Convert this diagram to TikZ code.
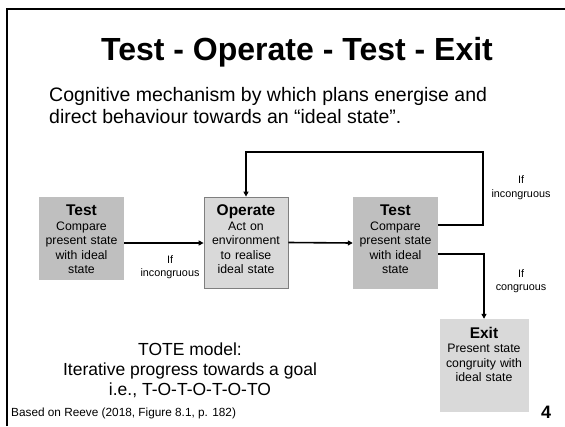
\documentclass[tikz,border=0pt]{standalone}
\usepackage{fontspec}
\setmainfont{Liberation Sans}
\usetikzlibrary{arrows.meta}

\definecolor{darkbox}{HTML}{BFBFBF}
\definecolor{lightbox}{HTML}{D9D9D9}
\definecolor{edgegray}{HTML}{7F7F7F}

\begin{document}
\begin{tikzpicture}[x=1pt, y=-1pt,
    >={Triangle[length=5pt,width=5pt]},
    tbox/.style={rectangle, inner sep=0pt},
    boxtext/.style={anchor=north, align=center, inner sep=0pt, text width=86pt,
        font=\fontsize{12.3}{14.5}\selectfont},
    cond/.style={align=center, font=\fontsize{10.8}{13.5}\selectfont},
    link/.style={line width=1.6pt}]
    \useasboundingbox (0,0) rectangle (565,426);

    % Frame
    \draw[line width=2pt] (6.5,426) -- (6.5,8.5) -- (565,8.5);

    % Title and intro
    \node (title) [anchor=base, font=\bfseries\fontsize{32}{36}\selectfont] at (297,60) {Test - Operate - Test - Exit};
    \node (intro) [anchor=north west, align=left, inner sep=0pt, font=\fontsize{19.5}{22.5}\selectfont] at (49,87)
        {Cognitive mechanism by which plans energise and\\direct behaviour towards an “ideal state”.};

    % Boxes
    \node (test1) [tbox, fill=darkbox, minimum width=85pt, minimum height=83pt] at (81.5,238.5) {};
    \node (operate) [tbox, fill=lightbox, draw=edgegray, line width=0.8pt, minimum width=84pt, minimum height=91pt] at (246,242.5) {};
    \node (test2) [tbox, fill=darkbox, minimum width=85pt, minimum height=92pt] at (395.5,243) {};
    \node (exit) [tbox, fill=lightbox, minimum width=89pt, minimum height=93pt] at (484,365.5) {};

    % Box texts
    \node (test1txt) [boxtext] at ([yshift=-8pt]test1.north) {{\bfseries\fontsize{15.5}{17}\selectfont Test}\\Compare\\present state\\with ideal\\state};
    \node (operatetxt) [boxtext] at ([yshift=-8pt]operate.north) {{\bfseries\fontsize{15.5}{17}\selectfont Operate}\\Act on\\environment\\to realise\\ideal state};
    \node (test2txt) [boxtext] at ([yshift=-8pt]test2.north) {{\bfseries\fontsize{15.5}{17}\selectfont Test}\\Compare\\present state\\with ideal\\state};
    \node (exittxt) [boxtext] at ([yshift=-8pt]exit.north) {{\bfseries\fontsize{15.5}{17}\selectfont Exit}\\Present state\\congruity with\\ideal state};

    % Edges
    \coordinate (fbtop) at (483,152);
    \draw[link, ->] ([yshift=-4.5pt]test1.east) -- ([yshift=-0.5pt]operate.west);
    \draw[link, ->] (operate.east) -- (test2.west);
    \draw[link, ->] ([yshift=18pt]test2.east) -| (fbtop) -| (operate.north);
    \draw[link, ->] ([yshift=-11pt]test2.east) -| (exit.north);

    % Edge labels
    \node (lbl1) [cond] at (170,267) {If\\incongruous};
    \node (lbl2) [cond] at (521,187.5) {If\\incongruous};
    \node (lbl3) [cond] at (521,281) {If\\congruous};

    % Notes
    \node (tote) [align=center, font=\fontsize{17.5}{20}\selectfont] at (190,370) {TOTE model:\\Iterative progress towards a goal\\i.e., T-O-T-O-T-O-TO};
    \node (source) [anchor=west, inner sep=0pt, font=\fontsize{11.8}{13}\selectfont] at (11,413) {Based on Reeve (2018, Figure 8.1, p. 182)};
    \node (page) [font=\bfseries\fontsize{18}{20}\selectfont] at (546,412) {4};
\end{tikzpicture}
\end{document}
